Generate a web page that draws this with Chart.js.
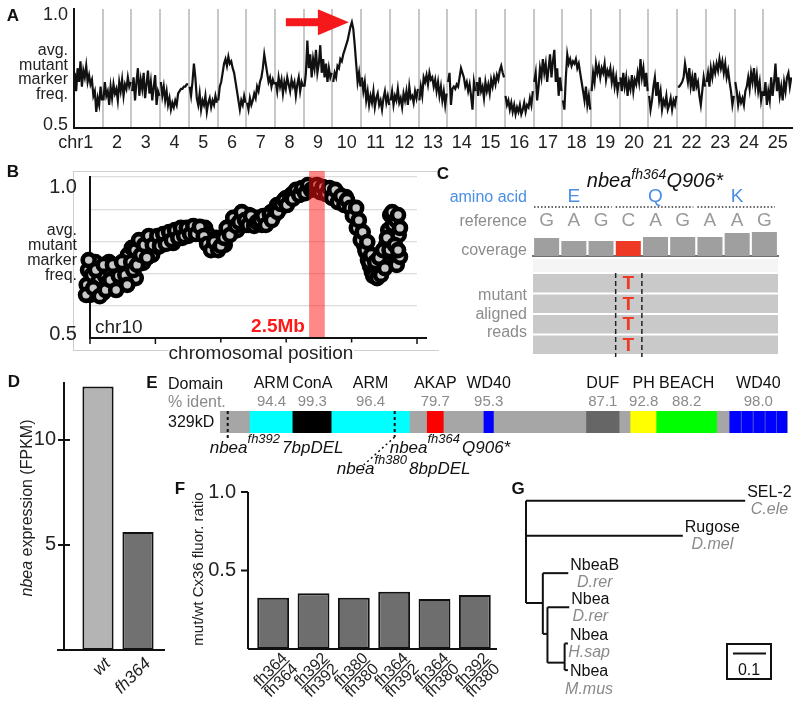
<!DOCTYPE html>
<html lang="en">
<head>
<meta charset="UTF-8">
<title>nbea mapping figure</title>
<script src="https://cdn.jsdelivr.net/npm/chart.js@4.4.1/dist/chart.umd.min.js"></script>
<style>
  body { margin: 0; width: 800px; height: 706px; position: relative; overflow: hidden; background: #fff;
         font-family: 'Liberation Sans', Arial, Helvetica, sans-serif; }
  canvas, .t, .ln { position: absolute; }
  .t { white-space: nowrap; line-height: 1; }
  .box { position: absolute; border: 2px solid #111; }
</style>
</head>
<body>
<script>
const FONT = "'Liberation Sans', Arial, Helvetica, sans-serif";

// ---- A: genome-wide mutant marker frequency, 20 samples per chromosome ----
const chrLabels = ['1','2','3','4','5','6','7','8','9','10','11','12','13','14','15','16','17','18','19','20','21','22','23','24','25'];
const markerFreq = [
  [0.74,0.66,0.76,0.70,0.79,0.68,0.75,0.72,0.77,0.70,0.73,0.69,0.71,0.64,0.66,0.57,0.63,0.60,0.68,0.62], // 1
  [0.62,0.70,0.64,0.66,0.60,0.68,0.63,0.69,0.65,0.67,0.62,0.70,0.66,0.71,0.64,0.69,0.67,0.72,0.68,0.70], // 2
  [0.66,0.72,0.62,0.70,0.76,0.64,0.71,0.67,0.74,0.63,0.69,0.75,0.65,0.70,0.62,0.68,0.73,0.60,0.66,0.64], // 3
  [0.70,0.64,0.68,0.62,0.66,0.60,0.63,0.58,0.61,0.59,0.62,0.60,0.65,0.66,0.67,0.67,0.68,0.68,0.69,0.69], // 4
  [0.68,0.64,0.70,0.78,0.72,0.63,0.60,0.65,0.58,0.62,0.60,0.64,0.57,0.61,0.63,0.59,0.62,0.60,0.64,0.61], // 5
  [0.62,0.68,0.70,0.74,0.78,0.80,0.77,0.81,0.78,0.79,0.76,0.74,0.70,0.66,0.62,0.58,0.62,0.60,0.64,0.61], // 6
  [0.61,0.58,0.63,0.60,0.62,0.65,0.63,0.68,0.66,0.70,0.72,0.76,0.82,0.78,0.74,0.70,0.72,0.68,0.71,0.69], // 7
  [0.70,0.66,0.72,0.68,0.71,0.65,0.70,0.67,0.72,0.69,0.66,0.71,0.68,0.70,0.64,0.69,0.72,0.66,0.70,0.68], // 8
  [0.68,0.74,0.88,0.76,0.82,0.72,0.80,0.76,0.84,0.74,0.78,0.86,0.74,0.80,0.72,0.78,0.70,0.76,0.72,0.74], // 9
  [0.70,0.74,0.72,0.77,0.76,0.80,0.79,0.82,0.84,0.86,0.88,0.91,0.94,0.96,0.93,0.86,0.78,0.70,0.74,0.68], // 10
  [0.72,0.66,0.70,0.62,0.66,0.60,0.64,0.61,0.66,0.59,0.63,0.65,0.60,0.62,0.58,0.63,0.66,0.61,0.64,0.60], // 11
  [0.62,0.66,0.60,0.64,0.62,0.67,0.61,0.63,0.59,0.65,0.62,0.66,0.60,0.68,0.63,0.64,0.61,0.66,0.63,0.67], // 12
  [0.62,0.68,0.64,0.72,0.70,0.73,0.69,0.74,0.71,0.72,0.68,0.71,0.66,0.70,0.64,0.68,0.62,0.66,0.60,0.65], // 13
  [0.70,0.74,0.60,0.67,0.68,0.67,0.69,0.68,0.72,0.76,0.74,0.72,0.68,0.70,0.66,0.69,0.64,0.58,0.70,0.66], // 14
  [0.70,0.64,0.72,0.66,0.68,0.63,0.70,0.66,0.69,0.65,0.71,0.68,0.72,0.69,0.73,0.71,0.75,0.77,0.74,0.72], // 15
  [0.64,0.60,0.62,0.58,0.61,0.57,0.60,0.56,0.59,0.57,0.60,0.56,0.58,0.61,0.57,0.60,0.59,0.63,0.60,0.66], // 16
  [0.70,0.74,0.62,0.68,0.76,0.72,0.80,0.74,0.78,0.70,0.76,0.82,0.72,0.79,0.84,0.70,0.76,0.64,0.72,0.66], // 17
  [0.62,0.58,0.72,0.82,0.78,0.80,0.77,0.79,0.78,0.80,0.76,0.78,0.74,0.70,0.66,0.62,0.68,0.60,0.64,0.58], // 18
  [0.66,0.74,0.70,0.78,0.74,0.77,0.72,0.76,0.74,0.78,0.71,0.75,0.73,0.76,0.70,0.74,0.68,0.72,0.66,0.70], // 19
  [0.72,0.66,0.74,0.68,0.72,0.64,0.70,0.67,0.73,0.66,0.71,0.69,0.74,0.70,0.80,0.72,0.76,0.68,0.74,0.66], // 20
  [0.64,0.58,0.62,0.68,0.72,0.64,0.70,0.62,0.66,0.58,0.62,0.60,0.64,0.58,0.60,0.63,0.58,0.62,0.60,0.64], // 21
  [0.68,0.68,0.69,0.70,0.72,0.78,0.74,0.70,0.76,0.68,0.72,0.66,0.74,0.68,0.70,0.64,0.60,0.66,0.72,0.68], // 22
  [0.70,0.74,0.68,0.76,0.72,0.77,0.74,0.78,0.75,0.80,0.76,0.79,0.74,0.78,0.72,0.75,0.70,0.66,0.60,0.64], // 23
  [0.70,0.66,0.60,0.64,0.61,0.63,0.60,0.66,0.68,0.72,0.67,0.74,0.70,0.76,0.68,0.73,0.66,0.70,0.62,0.66], // 24
  [0.64,0.70,0.60,0.66,0.62,0.72,0.64,0.70,0.78,0.66,0.72,0.64,0.68,0.62,0.70,0.66,0.72,0.74,0.68,0.72]  // 25
];

// ---- B: chr10 close-up (position in tick units, frequency) ----
const chr10Pos = [-0.05,-0.03,0.00,0.03,0.08,0.11,0.14,0.17,0.20,0.23,0.26,0.29,0.32,0.34,0.38,0.43,0.47,0.52,0.55,0.58,
  0.61,0.64,0.67,0.70,0.73,0.76,0.81,0.84,0.89,0.92,0.95,0.99,1.04,1.09,1.13,1.18,1.22,1.27,1.31,1.36,
  1.41,1.45,1.50,1.54,1.59,1.65,1.71,1.76,1.80,1.83,1.88,1.93,1.97,2.02,2.06,2.11,2.16,2.20,2.25,2.29,
  2.34,2.39,2.43,2.48,2.52,2.57,2.63,2.68,2.72,2.77,2.81,2.86,2.91,2.95,3.00,3.04,3.09,3.13,3.18,3.23,
  3.27,3.32,3.36,3.41,3.46,3.50,3.55,3.59,3.64,3.69,3.73,3.78,3.82,3.87,3.91,3.96,4.01,4.05,4.10,4.13,
  4.16,4.19,4.22,4.25,4.28,4.31,4.34,4.37,4.40,4.43,4.46,4.50,4.53,4.56,4.59,4.60,4.63,4.65,4.68,4.69,
  4.72,4.74,
  -0.06,-0.02,0.05,0.09,0.15,0.21,0.24,0.31,0.35,0.40,0.44,0.49,0.54,0.57,
  0.63,0.66,0.69,0.72,0.75,0.78,0.83,0.87,0.90,0.96,1.03,1.07,1.12,1.16,1.21,1.25,1.30,1.35,1.39,1.44,1.48,1.53,1.58,1.62,1.68,1.74,
  1.79,1.85,1.90,1.96,2.00,2.05,2.09,2.14,2.19,2.23,2.28,2.32,2.37,2.42,2.46,2.51,2.55,2.60,2.65,2.69,2.75,2.78,2.83,2.87,2.92,2.97,
  3.01,3.06,3.10,3.15,3.20,3.24,3.29,3.33,3.38,3.43,3.47,3.52,3.56,3.61,3.66,3.70,3.75,3.79,3.84,3.89,3.93,3.98,
  4.02,4.07,4.08,4.11,4.14,4.17,4.21,4.24,4.27,4.30,4.33,4.36,4.39,4.42,4.45,4.48,4.51,4.54,4.58,4.62,4.66,4.71,4.71,4.74];
const chr10Freq = [0.665,0.711,0.634,0.696,0.736,0.649,0.680,0.717,0.640,0.693,0.671,0.736,0.705,0.658,0.686,0.674,0.711,0.674,0.727,0.758,
  0.696,0.780,0.736,0.686,0.758,0.789,0.733,0.773,0.780,0.798,0.758,0.804,0.783,0.811,0.795,0.811,0.817,0.795,0.820,0.829,
  0.811,0.835,0.817,0.839,0.829,0.835,0.829,0.842,0.823,0.804,0.789,0.811,0.780,0.804,0.789,0.820,0.851,0.860,0.835,0.882,
  0.866,0.851,0.882,0.860,0.866,0.873,0.851,0.873,0.866,0.891,0.879,0.913,0.904,0.922,0.935,0.929,0.947,0.941,0.953,0.960,
  0.957,0.966,0.969,0.972,0.963,0.972,0.960,0.966,0.957,0.947,0.953,0.935,0.944,0.929,0.938,0.913,0.898,0.882,0.860,0.835,
  0.811,0.789,0.767,0.742,0.724,0.705,0.717,0.699,0.730,0.711,0.758,0.736,0.789,0.835,0.882,0.804,0.851,0.758,0.866,0.727,
  0.820,0.752,
  0.634,0.742,0.655,0.711,0.630,0.727,0.649,0.680,0.727,0.649,0.693,0.736,0.696,0.665,
  0.736,0.711,0.773,0.727,0.804,0.758,0.789,0.749,0.817,0.789,0.817,0.786,0.823,0.792,0.829,0.804,0.835,0.811,0.842,0.817,0.842,0.823,0.848,0.823,0.845,0.817,
  0.792,0.773,0.798,0.773,0.786,0.811,0.842,0.820,0.873,0.848,0.860,0.891,0.866,0.851,0.879,0.848,0.860,0.866,0.879,0.851,0.885,0.866,0.898,0.891,0.916,0.929,
  0.913,0.941,0.932,0.960,0.944,0.966,0.950,0.975,0.960,0.966,0.975,0.953,0.969,0.947,0.966,0.935,0.960,0.922,0.941,0.913,0.929,0.904,
  0.879,0.904,0.842,0.866,0.804,0.829,0.773,0.798,0.736,0.758,0.693,0.736,0.686,0.749,0.696,0.773,0.717,0.811,0.773,0.891,0.789,0.882,0.773,0.842];
const mappedInterval = [3.35, 3.59];

// ---- C: sequencing evidence ----
const aminoAcids = ['E', 'Q', 'K'];
const refBases = ['G', 'A', 'G', 'C', 'A', 'G', 'A', 'A', 'G'];
const coverage = [18, 15, 15, 15, 19, 19, 19, 23, 24];
const mutBase = 3;
const readNames = ['read1', 'read2', 'read3', 'read4'];
const readAllele = 'T';

// ---- D: expression ----
const genotypes = ['wt', 'fh364'];
const fpkm = [12.55, 5.62];

// ---- E: protein domains (residues) ----
const proteinLength = 2946;
const domainName  = ['ARM', 'ConA', 'ARM', 'AKAP', 'WD40', 'DUF', 'PH', 'BEACH', 'WD40'];
const domainIdent = ['94.4', '99.3', '96.4', '79.7', '95.3', '87.1', '92.8', '88.2', '98.0'];
const domainStart = [156, 378, 580, 1075, 1369, 1901, 2130, 2265, 2644];
const domainEnd   = [378, 580, 982, 1158, 1418, 2070, 2265, 2576, 2940];
const domainColor = ['#00ffff', '#000000', '#00ffff', '#ff0000', '#0000ff', '#666666', '#ffff00', '#00ff00', '#0000ff'];
const wd40Repeats = [[2644, 2700], [2706, 2762], [2768, 2824], [2830, 2884], [2889, 2940]];
const mutAllele  = ['fh392', 'fh364', 'fh380'];
const mutChange  = ['7bpDEL', 'Q906*', '8bpDEL'];
const mutResidue = [40, 906, 906];

// ---- F: Cx36 ratio ----
const fNum = ['fh364', 'fh392', 'fh380', 'fh364', 'fh364', 'fh392'];
const fDen = ['fh364', 'fh392', 'fh380', 'fh392', 'fh380', 'fh380'];
const cx36Ratio = [0.327, 0.355, 0.327, 0.365, 0.318, 0.344];

// ---- G: tree (branch-length depth, row, parent) ----
const treeDepth  = [0, 0.664, 0.475, 0.051, 0.128, 0.065, 0.131, 0.117, 0.127, 0.127];
const treeRow    = [0, 0.02, 1.01, 2.90, 2.06, 3.77, 3.02, 4.58, 4.04, 4.79];
const treeParent = [-1, 0, 0, 0, 3, 3, 5, 5, 7, 7];
const tipName    = {1: 'SEL-2', 2: 'Rugose', 4: 'NbeaB', 6: 'Nbea', 8: 'Nbea', 9: 'Nbea'};
const tipSpecies = {1: 'C.ele', 2: 'D.mel', 4: 'D.rer', 6: 'D.rer', 8: 'H.sap', 9: 'M.mus'};
const tipLabelRow = {9: 5.07};
const scaleBar = 0.1;

Chart.defaults.font.family = FONT;
Chart.defaults.animation = false;
Chart.defaults.responsive = false;
Chart.defaults.plugins.legend.display = false;
Chart.defaults.plugins.tooltip.enabled = false;

function mk(x, y, w, h) {
  const c = document.createElement('canvas');
  c.width = w; c.height = h;
  c.style.left = x + 'px'; c.style.top = y + 'px';
  c.style.width = w + 'px'; c.style.height = h + 'px';
  document.body.appendChild(c);
  return c;
}
// axis that takes no room and shows no labels
function flat(extra) {
  return Object.assign({
    ticks: { display: false },
    grid: { display: false, drawTicks: false },
    border: { display: false },
    afterFit: s => { if (s.isHorizontal()) s.height = 0; else s.width = 0; }
  }, extra);
}
function txt(ctx, s, x, y, font, color, align, base) {
  ctx.save();
  ctx.font = font; ctx.fillStyle = color || '#111';
  ctx.textAlign = align || 'center'; ctx.textBaseline = base || 'middle';
  ctx.fillText(s, x, y);
  ctx.restore();
}
function seg(ctx, x1, y1, x2, y2, w, color, dash) {
  ctx.save();
  ctx.strokeStyle = color || '#111'; ctx.lineWidth = w || 2;
  ctx.setLineDash(dash || []);
  ctx.beginPath(); ctx.moveTo(x1, y1); ctx.lineTo(x2, y2); ctx.stroke();
  ctx.restore();
}
function put(html, x, y, o) {
  o = o || {};
  const d = document.createElement('div');
  d.className = 't';
  d.innerHTML = html;
  d.style.left = x + 'px'; d.style.top = y + 'px';
  d.style.fontSize = (o.size || 16) + 'px';
  d.style.color = o.color || '#111';
  if (o.bold) d.style.fontWeight = 'bold';
  if (o.italic) d.style.fontStyle = 'italic';
  if (o.bg) d.style.background = o.bg;
  const ax = o.align === 'right' ? '-100%' : o.align === 'left' ? '0' : '-50%';
  d.style.transform = 'translate(' + ax + ',-50%)' + (o.rot ? ' rotate(' + o.rot + 'deg)' : '');
  document.body.appendChild(d);
}
function box(x, y, w, h, color) {
  const d = document.createElement('div');
  d.className = 'ln';
  d.style.cssText = 'left:' + x + 'px;top:' + y + 'px;width:' + w + 'px;height:' + h + 'px;background:' + color;
  document.body.appendChild(d);
}

// ================= A =================
const aPts = [];
markerFreq.forEach((vals, c) => {
  vals.forEach((v, j) => aPts.push({ x: c + (j + 0.5) / vals.length, y: v }));
  aPts.push({ x: c + 1, y: null });
});
new Chart(mk(0, 0, 800, 158), {
  type: 'line',
  data: { datasets: [{ data: aPts, borderColor: '#111', borderWidth: 2.2, pointRadius: 0, spanGaps: false, tension: 0 }] },
  options: {
    layout: { padding: { left: 74, top: 9, right: 8, bottom: 30 } },
    scales: {
      x: flat({ type: 'linear', min: 0, max: 25,
        ticks: { display: false, stepSize: 1, maxTicksLimit: 100 },
        grid: { display: true, drawTicks: false, lineWidth: 2,
                color: c => (c.tick && c.tick.value > 0 && c.tick.value < 25) ? '#c8c8c8' : 'rgba(0,0,0,0)' },
        border: { display: true, color: '#111', width: 2 } }),
      y: flat({ min: 0.5, max: 1.0174, border: { display: true, color: '#111', width: 2 } })
    }
  },
  plugins: [{
    id: 'aDeco',
    afterDraw(ch) {
      const ctx = ch.ctx, xs = ch.scales.x, ys = ch.scales.y;
      const f = '18px ' + FONT;
      chrLabels.forEach((l, i) => txt(ctx, l, xs.getPixelForValue(i + 0.5), 143, f, '#222'));
      ctx.font = f;
      const x0 = xs.getPixelForValue(0.5) - ctx.measureText(chrLabels[0]).width / 2;
      txt(ctx, 'chr', x0, 143, f, '#222', 'right');
      txt(ctx, '1.0', 68, ys.getPixelForValue(1.0) + 2, f, '#222', 'right');
      txt(ctx, '0.5', 68, ys.getPixelForValue(0.5) - 3, f, '#222', 'right');
      // arrow pointing at the chr10 peak
      const pk = markerFreq[9].indexOf(Math.max(...markerFreq[9]));
      const tx = xs.getPixelForValue(9 + (pk + 0.5) / 20) - 3, ty = ys.getPixelForValue(markerFreq[9][pk]);
      ctx.save();
      ctx.fillStyle = '#f5191c';
      ctx.fillRect(tx - 63, ty - 4, 34, 8);
      ctx.beginPath(); ctx.moveTo(tx, ty); ctx.lineTo(tx - 31, ty - 13); ctx.lineTo(tx - 31, ty + 13); ctx.closePath(); ctx.fill();
      ctx.restore();
    }
  }]
});
put('A', 13, 15, { bold: true, size: 17 });
['avg.', 'mutant', 'marker', 'freq.'].forEach((s, i) => put(s, 68, 50 + i * 14.5, { align: 'right', size: 16, color: '#222' }));

// ================= B =================
box(73, 171, 366, 1, '#cfcfcf');
box(73, 171, 1, 180, '#cfcfcf');
box(73, 350, 366, 1, '#cfcfcf');
new Chart(mk(60, 160, 380, 200), {
  type: 'scatter',
  data: { datasets: [{ data: chr10Pos.map((x, i) => ({ x: x, y: chr10Freq[i] })),
    pointRadius: 6, pointBorderWidth: 4.6, pointBorderColor: '#000', pointBackgroundColor: '#c8c8c8', clip: false }] },
  options: {
    layout: { padding: { left: 30, top: 17, right: 23, bottom: 22 } },
    scales: {
      x: flat({ type: 'linear', min: 0, max: 5, border: { display: true, color: '#111', width: 2 } }),
      y: flat({ min: 0.5, max: 1.0, ticks: { display: false, stepSize: 0.1 },
        grid: { display: true, drawTicks: false, lineWidth: 1.2,
                color: c => (c.tick && c.tick.value > 0.55) ? '#dcdcdc' : 'rgba(0,0,0,0)' },
        border: { display: true, color: '#111', width: 2 } })
    }
  },
  plugins: [{
    id: 'bDeco',
    beforeDatasetsDraw(ch) {
      const ctx = ch.ctx, xs = ch.scales.x, ca = ch.chartArea;
      seg(ctx, ca.right, ca.bottom, ca.right + 10, ca.bottom, 2, '#111');
      for (let t = 0; t <= 5; t++) {
        const x = xs.getPixelForValue(t);
        seg(ctx, x, ca.bottom, x, ca.bottom + 6, 1.5, '#111');
      }
    },
    afterDatasetsDraw(ch) {
      const ctx = ch.ctx, xs = ch.scales.x, ca = ch.chartArea;
      const x1 = xs.getPixelForValue(mappedInterval[0]), x2 = xs.getPixelForValue(mappedInterval[1]);
      ctx.save();
      ctx.fillStyle = 'rgba(255,20,20,0.5)';
      ctx.fillRect(x1, ca.top - 6, x2 - x1, ca.bottom - ca.top + 5);
      ctx.restore();
    }
  }]
});
put('B', 13, 171, { bold: true, size: 17 });
put('1.0', 77, 186, { align: 'right', size: 20, color: '#222' });
put('0.5', 77, 333, { align: 'right', size: 20, color: '#222' });
['avg.', 'mutant', 'marker', 'freq.'].forEach((s, i) => put(s, 77, 230 + i * 15, { align: 'right', size: 16, color: '#222' }));
put('chr10', 95, 326, { align: 'left', size: 19, color: '#222' });
put('2.5Mb', 278, 325, { size: 19, bold: true, color: '#ff1a1a' });
put('chromosomal position', 261, 352, { size: 19, color: '#222', bg: '#fff' });

// ================= C =================
box(533, 259, 245, 13, '#f5f5f5');
new Chart(mk(528, 186, 255, 75), {
  type: 'bar',
  data: { labels: refBases, datasets: [{ data: coverage,
    backgroundColor: coverage.map((v, i) => i === mutBase ? '#ee3a24' : '#9f9f9f'),
    barPercentage: 0.92, categoryPercentage: 1 }] },
  options: {
    layout: { padding: { left: 5, right: 5, top: 45, bottom: 5 } },
    scales: {
      x: flat({ border: { display: true, color: '#707070', width: 2 } }),
      y: flat({ min: 0, max: 25 })
    }
  },
  plugins: [{
    id: 'cDeco',
    afterDraw(ch) {
      const ctx = ch.ctx, xs = ch.scales.x, ca = ch.chartArea;
      const w = xs.getPixelForValue(1) - xs.getPixelForValue(0);
      refBases.forEach((b, i) => txt(ctx, b, xs.getPixelForValue(i), ca.top - 10, '19px ' + FONT, '#9a9a9a'));
      aminoAcids.forEach((a, k) => {
        txt(ctx, a, xs.getPixelForValue(3 * k + 1), ca.top - 34, '19px ' + FONT, '#4a8ee6');
        const l = xs.getPixelForValue(3 * k) - w / 2 + 1, r = xs.getPixelForValue(3 * k + 2) + w / 2 - 3;
        seg(ctx, l, ca.top - 24, r, ca.top - 24, 1.5, '#333', [1.5, 2]);
      });
    }
  }]
});
new Chart(mk(528, 262, 255, 100), {
  type: 'bar',
  data: { labels: readNames, datasets: [{ data: readNames.map(() => [0, refBases.length]),
    backgroundColor: '#c9c9c9', barPercentage: 0.9, categoryPercentage: 1 }] },
  options: {
    indexAxis: 'y',
    layout: { padding: { left: 5, right: 5, top: 11, bottom: 7 } },
    scales: { x: flat({ type: 'linear', min: 0, max: refBases.length }), y: flat({}) }
  },
  plugins: [{
    id: 'readDeco',
    afterDraw(ch) {
      const ctx = ch.ctx, xs = ch.scales.x, ys = ch.scales.y, ca = ch.chartArea;
      readNames.forEach((r, i) => txt(ctx, readAllele, xs.getPixelForValue(mutBase + 0.5), ys.getPixelForValue(i) + 1, 'bold 19px ' + FONT, '#ee3a24'));
      [mutBase, mutBase + 1].forEach(b => {
        const x = xs.getPixelForValue(b) + (b === mutBase ? 1 : 0);
        seg(ctx, x, ca.top, x, ca.bottom + 2, 1.5, '#222', [5, 3]);
      });
    }
  }]
});
put('C', 443, 173, { bold: true, size: 17 });
put('nbea<span style="font-size:14px;vertical-align:8px">fh364</span>Q906*', 655, 178, { italic: true, size: 20 });
put('amino acid', 527, 197, { align: 'right', size: 16, color: '#4a8ee6' });
put('reference', 527, 221, { align: 'right', size: 16, color: '#8c8c8c' });
put('coverage', 527, 250, { align: 'right', size: 16, color: '#8c8c8c' });
['mutant', 'aligned', 'reads'].forEach((s, i) => put(s, 527, 295 + i * 18.5, { align: 'right', size: 16, color: '#8c8c8c' }));

// ================= D =================
new Chart(mk(0, 370, 180, 336), {
  type: 'bar',
  data: { labels: genotypes, datasets: [{ data: fpkm, backgroundColor: ['#b4b4b4', '#717171'],
    borderColor: '#111', borderWidth: 2, borderSkipped: false, barPercentage: 0.78, categoryPercentage: 1 }] },
  options: {
    layout: { padding: { left: 78, right: 22, top: 12, bottom: 56 } },
    scales: { x: flat({}), y: flat({ min: 0, max: 12.76 }) }
  },
  plugins: [{
    id: 'dDeco',
    afterDraw(ch) {
      const ctx = ch.ctx, xs = ch.scales.x, ys = ch.scales.y, ca = ch.chartArea;
      const ax = ca.left - 14;
      seg(ctx, ax, ca.top, ax, ca.bottom, 2);
      seg(ctx, ca.left - 21, ca.bottom, ca.right + 7, ca.bottom, 2);
      [5, 10].forEach(v => {
        const y = ys.getPixelForValue(v);
        seg(ctx, ax - 6, y, ax + 6, y, 2);
        txt(ctx, String(v), ax - 8, y, '20px ' + FONT, '#222', 'right');
      });
      genotypes.forEach((g, i) => {
        ctx.save();
        ctx.translate(xs.getPixelForValue(i) + 10, ca.bottom + 11);
        ctx.rotate(-Math.PI / 4);
        txt(ctx, g, 0, 0, 'italic 17px ' + FONT, '#222', 'right');
        ctx.restore();
      });
    }
  }]
});
put('D', 14, 381, { bold: true, size: 17 });
put('<i>nbea</i> expression (FPKM)', 27, 508, { size: 16, color: '#222', rot: -90 });

// ================= E =================
const eBlocks = [{ x: [0, proteinLength], c: '#a6a6a6' }];
domainStart.forEach((s, i) => { if (i < domainStart.length - 1) eBlocks.push({ x: [s, domainEnd[i]], c: domainColor[i] }); });
wd40Repeats.forEach(r => eBlocks.push({ x: r, c: domainColor[domainColor.length - 1] }));
new Chart(mk(180, 372, 620, 110), {
  type: 'bar',
  data: { labels: ['nbea'], datasets: [{ data: eBlocks.map(b => ({ x: b.x, y: 'nbea' })),
    backgroundColor: eBlocks.map(b => b.c), barThickness: 22, borderWidth: 0 }] },
  options: {
    indexAxis: 'y',
    layout: { padding: { left: 40, right: 12, top: 39, bottom: 49 } },
    scales: { x: flat({ type: 'linear', min: 0, max: proteinLength }), y: flat({}) }
  },
  plugins: [{
    id: 'eDeco',
    afterDraw(ch) {
      const ctx = ch.ctx, xs = ch.scales.x, ca = ch.chartArea;
      domainName.forEach((n, i) => {
        const cx = xs.getPixelForValue((domainStart[i] + domainEnd[i]) / 2);
        txt(ctx, n, cx, ca.top - 27, '16px ' + FONT, '#111');
        txt(ctx, domainIdent[i], cx, ca.top - 9, '15px ' + FONT, '#8a8a8a');
      });
      const x0 = xs.getPixelForValue(mutResidue[0]), x1 = xs.getPixelForValue(mutResidue[1]);
      seg(ctx, x0, ca.top, x0, ca.bottom + 7, 2, '#111', [3, 3]);
      seg(ctx, x1, ca.top, x1, ca.bottom + 4, 2, '#111', [3, 3]);
      seg(ctx, x1, ca.bottom + 4, x1 - 31, ca.bottom + 32, 1.5, '#111', [2, 3]);
      const off = [[-18, 20], [-5, 20], [-58, 41]];
      mutAllele.forEach((a, i) => {
        let cx = xs.getPixelForValue(mutResidue[i]) + off[i][0];
        const by = ca.bottom + off[i][1];
        ctx.save();
        ctx.fillStyle = '#111'; ctx.textAlign = 'left'; ctx.textBaseline = 'alphabetic';
        [['nbea', 17, 0, 0], [a, 13, 10, 2], [mutChange[i], 17, 0, 0]].forEach(p => {
          ctx.font = 'italic ' + p[1] + 'px ' + FONT;
          ctx.fillText(p[0], cx, by - p[2]);
          cx += ctx.measureText(p[0]).width + p[3];
        });
        ctx.restore();
      });
    }
  }]
});
put('E', 152, 382, { bold: true, size: 17 });
put('Domain', 168, 384, { align: 'left', size: 16 });
put('% ident.', 168, 402, { align: 'left', size: 16, color: '#8a8a8a' });
put('329kD', 168, 422, { align: 'left', size: 16 });

// ================= F =================
new Chart(mk(180, 470, 320, 236), {
  type: 'bar',
  data: { labels: fNum.map((n, i) => n + '/' + fDen[i]), datasets: [{ data: cx36Ratio, backgroundColor: '#6e6e6e',
    borderColor: '#111', borderWidth: 2, borderSkipped: false, barPercentage: 0.79, categoryPercentage: 1 }] },
  options: {
    layout: { padding: { left: 73, right: 5, top: 22, bottom: 57 } },
    scales: { x: flat({}), y: flat({ min: 0, max: 1.0 }) }
  },
  plugins: [{
    id: 'fDeco',
    afterDraw(ch) {
      const ctx = ch.ctx, xs = ch.scales.x, ys = ch.scales.y, ca = ch.chartArea;
      const ax = ca.left - 5;
      seg(ctx, ax, ca.top, ax, ca.bottom, 2);
      seg(ctx, ax, ca.bottom, ca.right + 2, ca.bottom, 2);
      [0.5, 1.0].forEach(v => {
        const y = ys.getPixelForValue(v);
        seg(ctx, ax - 7, y, ax, y, 2);
        txt(ctx, v.toFixed(1), ax - 12, y, '20px ' + FONT, '#222', 'right');
      });
      ctx.font = '16px ' + FONT;
      fNum.forEach((n, i) => {
        ctx.save();
        ctx.translate(xs.getPixelForValue(i) + 15, ca.bottom + 10);
        ctx.rotate(-Math.PI / 4);
        const w = ctx.measureText(n).width;
        txt(ctx, n, 0, 0, '16px ' + FONT, '#222', 'right', 'alphabetic');
        seg(ctx, -w, 2, 0, 2, 1.2, '#222');
        txt(ctx, fDen[i], 0, 15, '16px ' + FONT, '#222', 'right', 'alphabetic');
        ctx.restore();
      });
    }
  }]
});
put('F', 180, 488, { bold: true, size: 17 });
put('mut/wt Cx36 fluor. ratio', 197, 569, { size: 15, color: '#222', rot: -90 });

// ================= G =================
const gSets = [];
const line = pts => gSets.push({ data: pts, showLine: true, borderColor: '#111', borderWidth: 2, pointRadius: 0, clip: false });
treeParent.forEach((p, i) => {
  if (p >= 0) line([{ x: treeDepth[p], y: treeRow[i] }, { x: treeDepth[i], y: treeRow[i] }]);
  const kids = treeRow.filter((r, k) => treeParent[k] === i);
  if (kids.length) line([{ x: treeDepth[i], y: Math.min(...kids) }, { x: treeDepth[i], y: Math.max(...kids) }]);
});
const scaleBarAt = { x: 0.627, y: 4.32 };
line([{ x: scaleBarAt.x, y: scaleBarAt.y }, { x: scaleBarAt.x + scaleBar, y: scaleBarAt.y }]);
new Chart(mk(500, 480, 300, 226), {
  type: 'scatter',
  data: { datasets: gSets },
  options: {
    layout: { padding: { left: 26, right: 0, top: 20, bottom: 16 } },
    scales: { x: flat({ type: 'linear', min: 0, max: 0.83 }), y: flat({ type: 'linear', min: 0, max: 5.35, reverse: true }) }
  },
  plugins: [{
    id: 'gDeco',
    afterDraw(ch) {
      const ctx = ch.ctx, xs = ch.scales.x, ys = ch.scales.y;
      Object.keys(tipName).forEach(k => {
        const row = tipLabelRow[k] !== undefined ? tipLabelRow[k] : treeRow[k];
        const x = xs.getPixelForValue(treeDepth[k]) + 2, y = ys.getPixelForValue(row);
        ctx.font = '16px ' + FONT;
        const w = ctx.measureText(tipName[k]).width;
        txt(ctx, tipName[k], x, y - 8, '16px ' + FONT, '#111', 'left');
        txt(ctx, tipSpecies[k], x + w / 2, y + 9, 'italic 16px ' + FONT, '#8a8a8a');
      });
    }
  }]
});
put('G', 518, 488, { bold: true, size: 17 });
const sb = document.createElement('div');
sb.className = 'box';
sb.style.cssText += 'left:726px;top:643px;width:42px;height:33px;';
document.body.appendChild(sb);
put('0.1', 749, 670, { size: 16 });
</script>
</body>
</html>
